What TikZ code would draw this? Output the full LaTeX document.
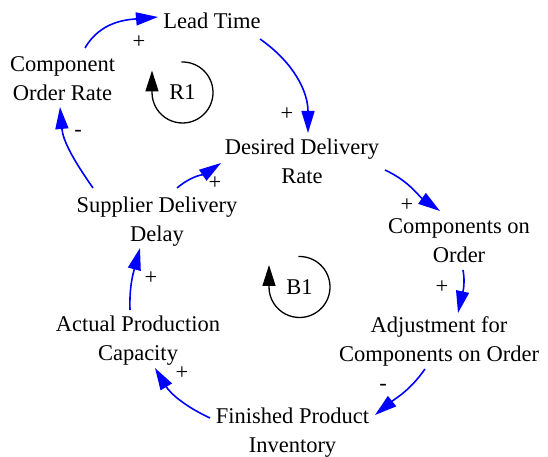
\documentclass[tikz,border=0pt]{standalone}
\usepackage{fontspec}
\setmainfont{Liberation Serif}
\newfontfamily\varfont{Liberation Serif}
\usetikzlibrary{arrows.meta}
\begin{document}
\begin{tikzpicture}[x=1pt,y=1pt,
  var/.style={align=center, inner sep=0pt, font=\varfont\fontsize{22.5}{29}\selectfont},
  sign/.style={inner sep=0pt, font=\varfont\fontsize{22.5}{29}\selectfont},
  link/.style={draw=blue, line width=1.6pt, -{Triangle[length=22pt,width=13pt]}},
  loopmark/.style={draw=black, line width=1.3pt, -{Triangle[length=21pt,width=13pt]}}
]
\useasboundingbox (0,0) rectangle (548,457);

% variables
\node[var] (lt)  at (212,436)   {Lead Time};
\node[var] (cor) at (62.5,378)  {Component\\Order Rate};
\node[var] (ddr) at (302,295.5) {Desired Delivery\\Rate};
\node[var] (coo) at (459,216.5) {Components on\\Order};
\node[var] (adj) at (439,115.5) {Adjustment for\\Components on Order};
\node[var] (fpi) at (292.5,24)  {Finished Product\\Inventory};
\node[var] (apc) at (138,116)   {Actual Production\\Capacity};
\node[var] (sdd) at (157,235.5) {Supplier Delivery\\Delay};

% causal links
\draw[link] ([shift={(22.5,31)}]cor.center) to[out=60,in=185] ([shift={(-54,4)}]lt.center);
\draw[link] ([shift={(48,-18)}]lt.center) to[out=-35,in=90] ([shift={(6,28.5)}]ddr.center);
\draw[link] ([shift={(83,-8.5)}]ddr.center) to[out=-25,in=145] ([shift={(-19,29.5)}]coo.center);
\draw[link] ([shift={(4,-29.5)}]coo.center) to[out=-80,in=78] ([shift={(19,28.5)}]adj.center);
\draw[link] ([shift={(-14,-27.5)}]adj.center) to[out=-125,in=39] ([shift={(82.5,18)}]fpi.center);
\draw[link] ([shift={(-82.5,15)}]fpi.center) to[out=155,in=-59] ([shift={(17,-27)}]apc.center);
\draw[link] ([shift={(-8,31)}]apc.center) to[out=92,in=-105] ([shift={(-17,-26.5)}]sdd.center);
\draw[link] ([shift={(20,33.5)}]sdd.center) to[out=40,in=-146] ([shift={(-81,-1.5)}]ddr.center);
\draw[link] ([shift={(-64,33.5)}]sdd.center) to[out=125,in=-85] ([shift={(-2.5,-28)}]cor.center);

% polarities
\node[sign] (s1) at (139,415) {+};
\node[sign] (s2) at (287,343) {+};
\node[sign] (s3) at (407,252) {+};
\node[sign] (s4) at (442,170) {+};
\node[sign] (s5) at (383,70)  {-};
\node[sign] (s6) at (182,84)  {+};
\node[sign] (s7) at (151,179) {+};
\node[sign] (s8) at (215,274) {+};
\node[sign] (s9) at (78,324)  {-};

% loop markers
\node[sign] (r1) at (182.5,364.5) {R1};
\node[sign] (b1) at (299.5,170) {B1};
\draw[loopmark] ([shift={(92:30.5)}]r1.center) arc[start angle=92,end angle=-180,radius=30.5] -- ++(0,22);
\draw[loopmark] ([shift={(92:30.5)}]b1.center) arc[start angle=92,end angle=-180,radius=30.5] -- ++(0,22);
\end{tikzpicture}
\end{document}
